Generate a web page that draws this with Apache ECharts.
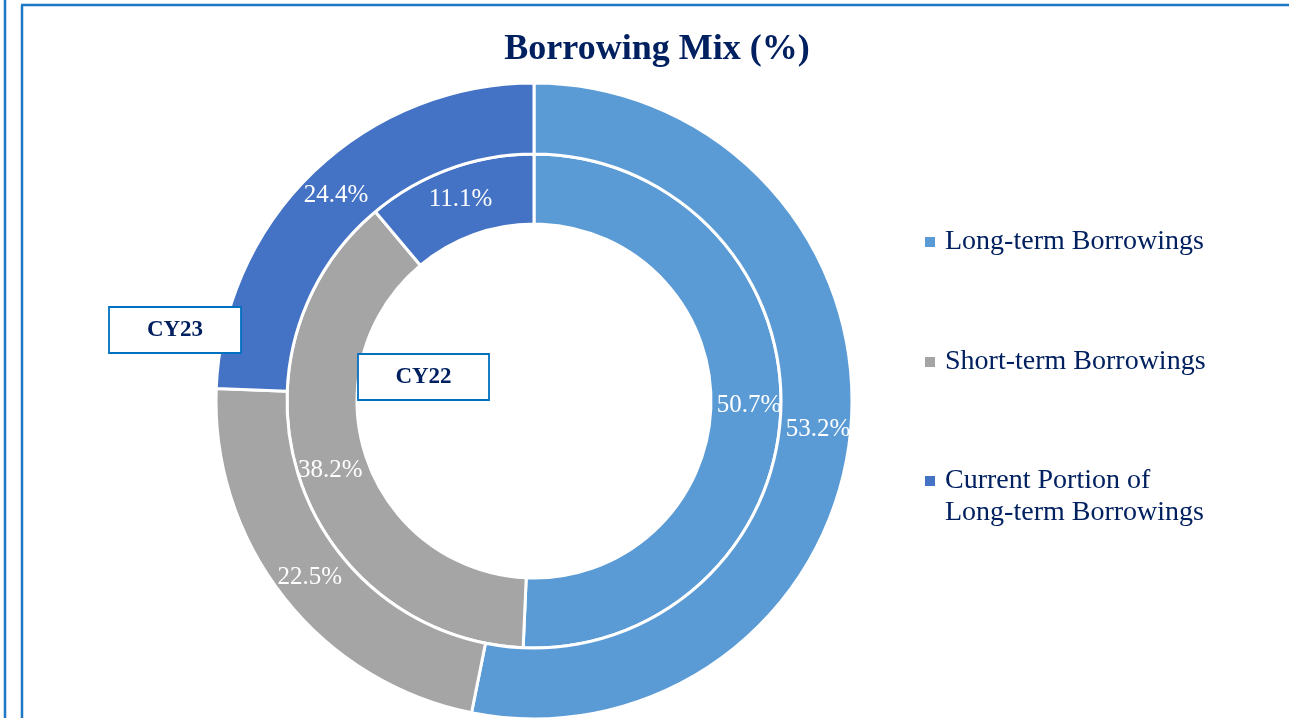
<!DOCTYPE html>
<html>
<head>
<meta charset="utf-8">
<script src="https://cdn.jsdelivr.net/npm/echarts@6/dist/echarts.min.js"></script>
<style>
html,body{margin:0;padding:0;background:#fff;}
#chart{width:1289px;height:718px;}
</style>
</head>
<body>
<div id="chart"></div>
<script>
const categories = ['Long-term Borrowings', 'Short-term Borrowings', 'Current Portion of\nLong-term Borrowings'];
const cy22Values = [50.7, 38.2, 11.1];
const cy23Values = [53.2, 22.5, 24.4];
const ringLabels = ['CY22', 'CY23'];
const colors = ['#5B9BD5', '#A5A5A5', '#4472C4'];

const FONT = 'Liberation Serif';
const NAVY = '#002060';
const BORDER = '#1E78C4';

const chart = echarts.init(document.getElementById('chart'), null, {renderer: 'canvas'});

function toData(vals) {
  return vals.map((v, i) => ({name: categories[i], value: v}));
}

const labelCfg = {
  show: true,
  position: 'inside',
  color: '#fff',
  fontFamily: FONT,
  fontSize: 25,
  formatter: p => p.value.toFixed(1) + '%'
};

function legendFor(i, top) {
  return {
    orient: 'vertical',
    left: 925,
    top: top,
    padding: 0,
    data: [categories[i]],
    icon: 'rect',
    itemWidth: 10,
    itemHeight: 10,
    itemStyle: {borderWidth: 0},
    selectedMode: false,
    formatter: n => n.indexOf('\n') >= 0 ? '\n' + n : n,
    textStyle: {fontFamily: FONT, fontSize: 28, color: NAVY, lineHeight: 32, padding: [0, 0, 0, 5]}
  };
}

function box(label, x, y, w, h) {
  return [
    {type: 'rect', zlevel: 1, z: 100, shape: {x: x, y: y, width: w, height: h}, style: {fill: '#fff', stroke: '#0070C0', lineWidth: 1.8}},
    {type: 'text', zlevel: 1, z: 101, x: x + w / 2, y: y + h / 2, style: {text: label, fontFamily: FONT, fontWeight: 'bold', fontSize: 23, fill: NAVY, align: 'center', verticalAlign: 'middle'}}
  ];
}

chart.setOption({
  backgroundColor: '#fff',
  color: colors,
  animation: false,
  title: {
    text: 'Borrowing Mix (%)',
    left: 652, top: 27, textAlign: 'center',
    textStyle: {fontFamily: FONT, fontWeight: 'bold', fontSize: 36, color: NAVY}
  },
  legend: [legendFor(0, 226), legendFor(1, 346), legendFor(2, 433)],
  series: [
    {
      name: ringLabels[0],
      type: 'pie',
      center: [534, 401],
      radius: [177, 247],
      startAngle: 90,
      clockwise: true,
      label: labelCfg,
      labelLine: {show: false},
      itemStyle: {borderColor: '#fff', borderWidth: 3},
      emphasis: {disabled: true},
      data: toData(cy22Values)
    },
    {
      name: ringLabels[1],
      type: 'pie',
      center: [534, 401],
      radius: [247, 318],
      startAngle: 90,
      clockwise: true,
      label: labelCfg,
      labelLine: {show: false},
      itemStyle: {borderColor: '#fff', borderWidth: 3},
      emphasis: {disabled: true},
      data: toData(cy23Values)
    }
  ],
  graphic: {
    zlevel: 1,
    z: 100,
    elements: [
      {type: 'line', zlevel: 1, z: 100, shape: {x1: 5, y1: 0, x2: 5, y2: 718}, style: {stroke: BORDER, lineWidth: 2.5}},
      {type: 'line', zlevel: 1, z: 100, shape: {x1: 22, y1: 5, x2: 22, y2: 718}, style: {stroke: BORDER, lineWidth: 2.5}},
      {type: 'line', zlevel: 1, z: 100, shape: {x1: 21, y1: 5, x2: 1289, y2: 5}, style: {stroke: BORDER, lineWidth: 2.5}}
    ].concat(box(ringLabels[1], 109, 307, 132, 46), box(ringLabels[0], 358, 354, 131, 46))
  }
});
</script>
</body>
</html>
